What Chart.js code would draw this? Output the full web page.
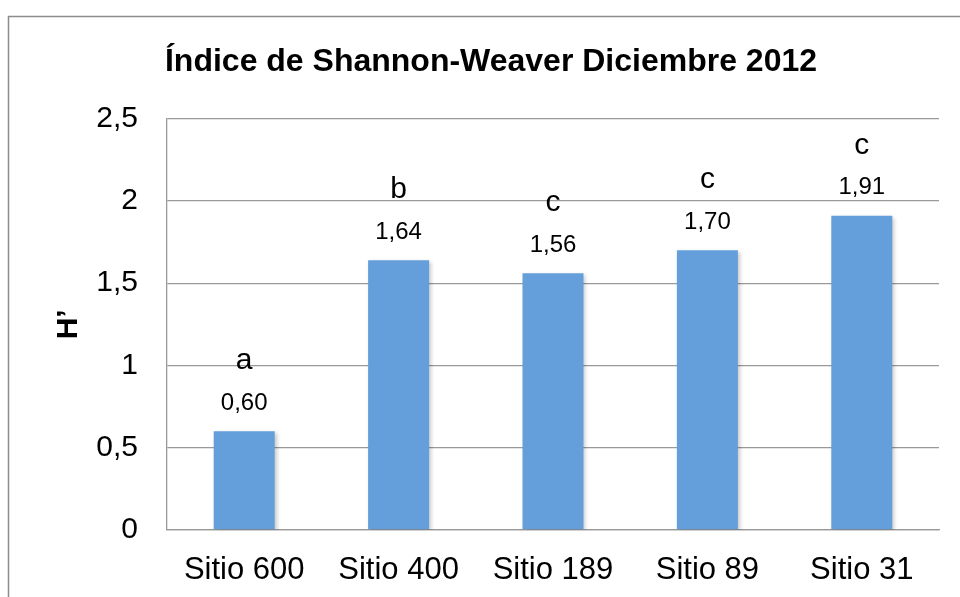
<!DOCTYPE html>
<html lang="es">

<head>
  <meta charset="UTF-8">
  <title>Índice de Shannon-Weaver Diciembre 2012</title>
  <script src="https://cdn.jsdelivr.net/npm/chart.js"></script>
  <style>
    body { margin: 0; background: #fff; }
    canvas { display: block; }
  </style>
</head>

<body>
  <canvas id="myChart" width="960" height="597"></canvas>

  <script>
    // datos
    const categories = ['Sitio 600', 'Sitio 400', 'Sitio 189', 'Sitio 89', 'Sitio 31'];
    const hValues = [0.60, 1.64, 1.56, 1.70, 1.91];
    const groupLetters = ['a', 'b', 'c', 'c', 'c'];
    const yMax = 2.5;
    const yStep = 0.5;

    const FONT = "'Liberation Sans', Arial, sans-serif";
    const comma = v => String(v).replace('.', ',');

    const frame = {
      id: 'frame',
      beforeDraw(chart) {
        const c = chart.ctx;
        c.save();
        c.fillStyle = '#fff';
        c.fillRect(0, 0, chart.width, chart.height);
        c.strokeStyle = '#8c8c8c';
        c.lineWidth = 1.5;
        c.strokeRect(8.5, 16.5, 2000, 2000);
        c.restore();
      }
    };

    const shadow = {
      id: 'shadow',
      beforeDatasetsDraw(chart) {
        const c = chart.ctx;
        c.save();
        c.shadowColor = 'rgba(0,0,0,0.22)';
        c.shadowBlur = 4;
        c.shadowOffsetX = 2;
        c.shadowOffsetY = 2;
      },
      afterDatasetsDraw(chart) {
        chart.ctx.restore();
      }
    };

    const barLabels = {
      id: 'barLabels',
      afterDatasetsDraw(chart) {
        const c = chart.ctx;
        const meta = chart.getDatasetMeta(0);
        c.save();
        c.fillStyle = '#000';
        c.textAlign = 'center';
        meta.data.forEach((bar, i) => {
          c.font = '24px ' + FONT;
          c.textBaseline = 'middle';
          c.fillText(hValues[i].toFixed(2).replace('.', ','), bar.x, bar.y - 28);
          c.font = '30px ' + FONT;
          c.textBaseline = 'alphabetic';
          c.fillText(groupLetters[i], bar.x, bar.y - 62);
        });
        c.restore();
      }
    };

    const ctx = document.getElementById('myChart');

    const chart = new Chart(ctx, {
      type: 'bar',
      data: {
        labels: categories,
        datasets: [{
          data: hValues,
          backgroundColor: '#659fdb',
          borderWidth: 0,
          categoryPercentage: 1,
          barPercentage: 0.395
        }]
      },
      options: {
        responsive: false,
        animation: false,
        layout: {
          padding: { left: 43, right: 21, top: 0, bottom: 0 }
        },
        plugins: {
          legend: { display: false },
          tooltip: { enabled: false },
          title: {
            display: true,
            text: 'Índice de Shannon-Weaver Diciembre 2012',
            color: '#000',
            font: { family: FONT, size: 32, weight: 'bold', lineHeight: 1.2 },
            padding: { top: 43, bottom: 37.3 }
          }
        },
        scales: {
          x: {
            grid: { display: false, drawTicks: false },
            border: { display: true, color: '#999', width: 1.3 },
            ticks: {
              color: '#000',
              padding: 22,
              font: { family: FONT, size: 31 }
            },
            afterFit(s) { s.height = 67; }
          },
          y: {
            min: 0,
            max: yMax,
            grid: { color: '#999', lineWidth: 1.3, drawTicks: false },
            border: { display: true, color: '#999', width: 1.3 },
            ticks: {
              stepSize: yStep,
              color: '#000',
              padding: 29,
              font: { family: FONT, size: 30 },
              callback: v => comma(v)
            },
            title: {
              display: true,
              text: 'H’',
              color: '#000',
              font: { family: FONT, size: 30, weight: 'bold' },
              padding: { top: 8, bottom: 0 }
            },
            afterFit(s) { s.width = 124; }
          }
        }
      },
      plugins: [frame, shadow, barLabels]
    });
  </script>
</body>

</html>
